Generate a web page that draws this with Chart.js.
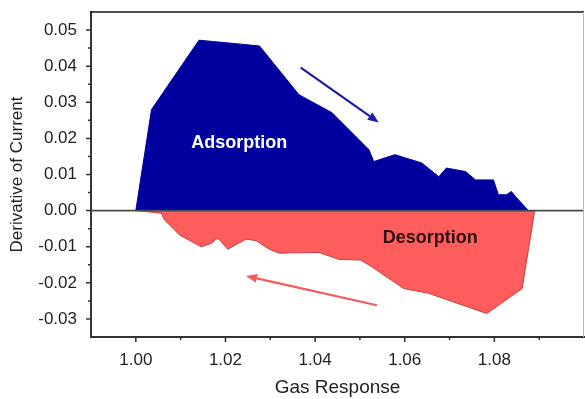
<!DOCTYPE html>
<html lang="en">
<head>
<meta charset="UTF-8">
<title>Adsorption / Desorption</title>
<style>
    body { margin: 0; background: #fff; }
    #wrap { width: 585px; height: 399px; }
</style>
<script src="https://cdn.jsdelivr.net/npm/chart.js"></script>
</head>
<body>
<div id="wrap"><canvas id="chart" width="585" height="399"></canvas></div>
<script>
// Adsorption curve (upper, blue)
const adsX = [1.000, 1.0035, 1.0141, 1.0276, 1.0364, 1.0438, 1.0520, 1.0531, 1.0578, 1.0638,
              1.0676, 1.0693, 1.0736, 1.0758, 1.0798, 1.0809, 1.0827, 1.0838, 1.0847, 1.0876];
const adsY = [0, 0.0280, 0.0472, 0.0456, 0.0321, 0.0271, 0.0169, 0.0136, 0.0155, 0.0132,
              0.0094, 0.0118, 0.0108, 0.0085, 0.0085, 0.0044, 0.0044, 0.0053, 0.0039, 0];

// Desorption curve (lower, red)
const desX = [1.000, 1.0057, 1.0064, 1.0079, 1.0098, 1.0146, 1.0168, 1.0181, 1.0187, 1.0205,
              1.0246, 1.0268, 1.0298, 1.0320, 1.0349, 1.0409, 1.0453, 1.0502, 1.0527, 1.0598,
              1.0624, 1.0653, 1.0783, 1.0862, 1.0890];
const desY = [0, -0.0007, -0.0026, -0.0044, -0.0068, -0.0100, -0.0091, -0.0077, -0.0081, -0.0107,
              -0.0079, -0.0083, -0.0107, -0.0118, -0.0117, -0.0116, -0.0135, -0.0137, -0.0156, -0.0216,
              -0.0222, -0.0229, -0.0285, -0.0216, 0];

const xTicks = [1.00, 1.02, 1.04, 1.06, 1.08];
const xMinor = [1.01, 1.03, 1.05, 1.07, 1.09];
const yTicks = [-0.03, -0.02, -0.01, 0.00, 0.01, 0.02, 0.03, 0.04, 0.05];
const yMinor = [-0.025, -0.015, -0.005, 0.005, 0.015, 0.025, 0.035, 0.045];

// annotations, in data units
const notes = [
    { text: 'Adsorption', x: 1.0231, y: 0.0188, color: '#ffffff' },
    { text: 'Desorption', x: 1.0657, y: -0.0077, color: '#2a1212' }
];
const arrows = [
    { from: [1.0368, 0.0396], to: [1.0542, 0.0244], color: '#1c1ca6' },
    { from: [1.0538, -0.0262], to: [1.0246, -0.0181], color: '#f25c5c' }
];

const FONT = "'Liberation Sans', Arial, sans-serif";

function toPoints(xs, ys) {
    return xs.map((v, i) => ({ x: v, y: ys[i] }));
}

function drawArrow(ctx, x1, y1, x2, y2, color) {
    const ang = Math.atan2(y2 - y1, x2 - x1);
    const len = 11, half = 4.5;
    const bx = x2 - len * Math.cos(ang), by = y2 - len * Math.sin(ang);
    ctx.strokeStyle = color;
    ctx.fillStyle = color;
    ctx.lineWidth = 2.2;
    ctx.beginPath();
    ctx.moveTo(x1, y1);
    ctx.lineTo(bx, by);
    ctx.stroke();
    ctx.beginPath();
    ctx.moveTo(x2, y2);
    ctx.lineTo(bx + half * Math.sin(ang), by - half * Math.cos(ang));
    ctx.lineTo(bx - half * Math.sin(ang), by + half * Math.cos(ang));
    ctx.closePath();
    ctx.fill();
}

const decor = {
    id: 'decor',
    afterDraw(chart) {
        const { ctx, chartArea: a, scales: { x, y } } = chart;
        ctx.save();

        // zero line
        const y0 = y.getPixelForValue(0);
        ctx.strokeStyle = '#4a4a4a';
        ctx.lineWidth = 1.6;
        ctx.beginPath();
        ctx.moveTo(a.left, y0);
        ctx.lineTo(a.right, y0);
        ctx.stroke();

        // top and right frame
        ctx.strokeStyle = '#111';
        ctx.lineWidth = 1.6;
        ctx.beginPath();
        ctx.moveTo(a.left, a.top);
        ctx.lineTo(a.right, a.top);
        ctx.stroke();
        ctx.strokeStyle = '#bbb';
        ctx.lineWidth = 1;
        ctx.beginPath();
        ctx.moveTo(a.right - 0.5, a.top);
        ctx.lineTo(a.right - 0.5, a.bottom);
        ctx.stroke();

        // tick marks
        ctx.strokeStyle = '#333';
        ctx.lineWidth = 1.5;
        ctx.beginPath();
        xTicks.forEach(v => { const p = x.getPixelForValue(v); ctx.moveTo(p, a.bottom); ctx.lineTo(p, a.bottom + 5); });
        xMinor.forEach(v => { const p = x.getPixelForValue(v); ctx.moveTo(p, a.bottom); ctx.lineTo(p, a.bottom + 3); });
        yTicks.forEach(v => { const p = y.getPixelForValue(v); ctx.moveTo(a.left, p); ctx.lineTo(a.left - 5, p); });
        yMinor.forEach(v => { const p = y.getPixelForValue(v); ctx.moveTo(a.left, p); ctx.lineTo(a.left - 3, p); });
        ctx.stroke();

        // arrows
        arrows.forEach(ar => {
            drawArrow(ctx,
                x.getPixelForValue(ar.from[0]), y.getPixelForValue(ar.from[1]),
                x.getPixelForValue(ar.to[0]), y.getPixelForValue(ar.to[1]), ar.color);
        });

        // region labels
        ctx.font = 'bold 18px ' + FONT;
        ctx.textAlign = 'center';
        ctx.textBaseline = 'middle';
        notes.forEach(n => {
            ctx.fillStyle = n.color;
            ctx.fillText(n.text, x.getPixelForValue(n.x), y.getPixelForValue(n.y));
        });

        ctx.restore();
    }
};

new Chart(document.getElementById('chart'), {
    type: 'line',
    data: {
        datasets: [
            {
                label: 'Adsorption',
                data: toPoints(adsX, adsY),
                borderColor: '#00009e',
                backgroundColor: '#00009e',
                borderWidth: 1,
                pointRadius: 0,
                tension: 0,
                fill: 'origin'
            },
            {
                label: 'Desorption',
                data: toPoints(desX, desY),
                borderColor: '#c04040',
                backgroundColor: '#ff5c5c',
                borderWidth: 1,
                pointRadius: 0,
                tension: 0,
                fill: 'origin'
            }
        ]
    },
    options: {
        responsive: false,
        animation: false,
        events: [],
        layout: { padding: { top: 12, right: 1, left: 0, bottom: 0 } },
        plugins: {
            legend: { display: false },
            tooltip: { enabled: false }
        },
        scales: {
            x: {
                type: 'linear',
                min: 0.99,
                max: 1.10,
                afterBuildTicks: s => { s.ticks = xTicks.map(v => ({ value: v })); },
                afterFit: s => { s.height = 62; s.paddingLeft = 0; s.paddingRight = 0; },
                grid: { display: true, drawOnChartArea: false, drawTicks: false },
                border: { display: true, color: '#333', width: 2 },
                ticks: {
                    padding: 13,
                    color: '#222',
                    font: { family: FONT, size: 17 },
                    maxRotation: 0,
                    callback: v => v.toFixed(2)
                },
                title: {
                    display: true,
                    text: 'Gas Response',
                    color: '#222',
                    font: { family: FONT, size: 19 },
                    padding: { top: 0, bottom: 0 }
                }
            },
            y: {
                min: -0.035,
                max: 0.055,
                afterBuildTicks: s => { s.ticks = yTicks.map(v => ({ value: v })); },
                afterFit: s => { s.width = 91; s.paddingTop = 0; s.paddingBottom = 0; },
                grid: { display: true, drawOnChartArea: false, drawTicks: false },
                border: { display: true, color: '#333', width: 2 },
                ticks: {
                    padding: 14,
                    color: '#222',
                    font: { family: FONT, size: 17 },
                    callback: v => v.toFixed(2)
                },
                title: {
                    display: true,
                    text: 'Derivative of Current',
                    color: '#222',
                    font: { family: FONT, size: 17 },
                    padding: { top: 7, bottom: 0 }
                }
            }
        }
    },
    plugins: [decor]
});
</script>
</body>
</html>
